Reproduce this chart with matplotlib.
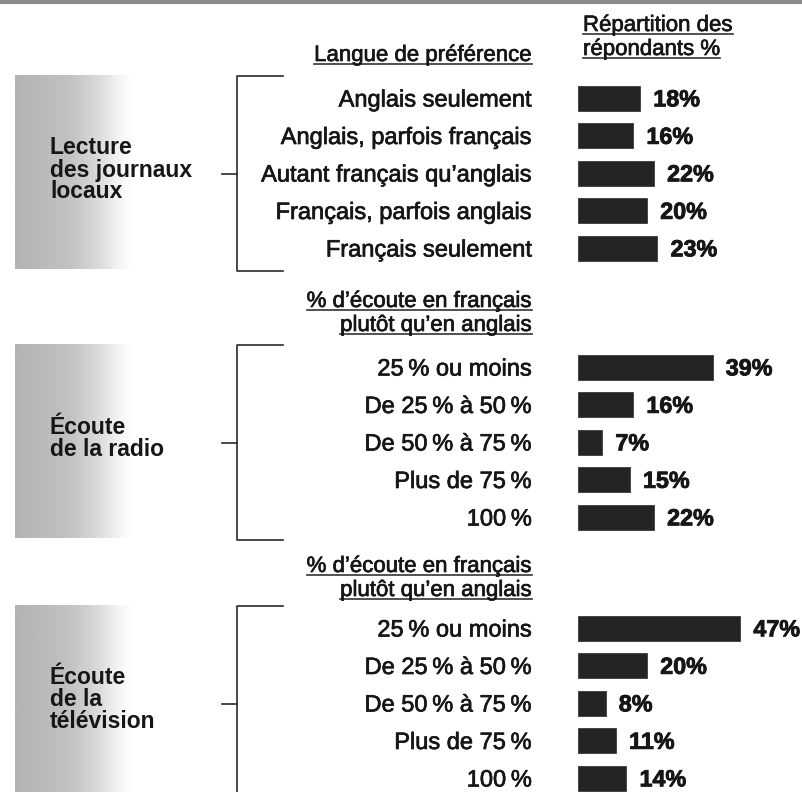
import numpy as np
import matplotlib.pyplot as plt
import matplotlib.patheffects as pe

# data
groups = ["Lecture\ndes journaux\nlocaux", "Écoute\nde la radio", "Écoute\nde la\ntélévision"]
headers = [
    ["Langue de préférence"],
    ["% d’écoute en français", "plutôt qu’en anglais"],
    ["% d’écoute en français", "plutôt qu’en anglais"],
]
labels_journaux = ["Anglais seulement", "Anglais, parfois français", "Autant français qu’anglais",
                   "Français, parfois anglais", "Français seulement"]
labels_ecoute = ["25\u2009% ou moins", "De 25\u2009% à 50\u2009%", "De 50\u2009% à 75\u2009%",
                 "Plus de 75\u2009%", "100\u2009%"]
values_journaux = [18, 16, 22, 20, 23]
values_radio = [39, 16, 7, 15, 22]
values_tele = [47, 20, 8, 11, 14]
value_header = ["Répartition des", "répondants %"]

panels = [
    (labels_journaux, values_journaux),
    (labels_ecoute, values_radio),
    (labels_ecoute, values_tele),
]

W, H = 803, 792
fig = plt.figure(figsize=(W / 100, H / 100), dpi=100)
fig.patch.set_facecolor("white")

SANS = ["Liberation Sans", "DejaVu Sans"]
INK = "#161616"
thick = [pe.withStroke(linewidth=0.5, foreground=INK)]
heavy = [pe.withStroke(linewidth=0.6, foreground=INK)]

# base layer in pixel units
ax = fig.add_axes([0, 0, 1, 1])
ax.set_xlim(0, W)
ax.set_ylim(H, 0)
ax.axis("off")

# bar layer: x in percent, y in pixels
bar_x0 = 578
px_per_pct = 3.45
bx = fig.add_axes([bar_x0 / W, 0, 1 - bar_x0 / W, 1])
bx.set_xlim(0, (W - bar_x0) / px_per_pct)
bx.set_ylim(H, 0)
bx.axis("off")

ax.axhline(1.5, color="#8a8a8a", lw=3)

first_rows = [98, 367, 628]
step = 37.5
header_base = [[61], [307, 331], [572, 596]]
label_right = 532

underlined = []

for k, ((labels, vals), y0) in enumerate(zip(panels, first_rows)):
    ys = y0 + step * np.arange(len(vals))

    # bars and values
    bx.barh(ys, vals, height=25, color="#242424", edgecolor="#3a3a3a", lw=0.6)
    for y, v in zip(ys, vals):
        bx.annotate(f"{v}%", xy=(v, y), xytext=(9.5, -6.0), textcoords="offset points",
                    va="baseline", ha="left", fontsize=16.8, fontweight="bold",
                    family=SANS, color=INK, path_effects=heavy)

    # row labels
    for y, lab in zip(ys, labels):
        ax.text(label_right, y + 8.5, lab, ha="right", va="baseline",
                fontsize=17, family=SANS, color=INK, path_effects=thick)

    # headers
    for line, yb in zip(headers[k], header_base[k]):
        t = ax.text(label_right, yb, line, ha="right", va="baseline",
                    fontsize=16, family=SANS, color=INK, path_effects=thick)
        underlined.append((t, yb))

    # bracket
    top, bot = ys[0] - 22, ys[-1] + 23
    mid = (top + bot) / 2
    ax.plot([283, 237, 237, 283], [top, top, bot, bot], color="#2a2a2a", lw=1.2)
    ax.plot([222, 237], [mid, mid], color="#2a2a2a", lw=1.2)

    # shaded block with category name
    g = np.interp(np.linspace(15, 132, 120), [15, 70, 100, 120, 132], [0.70, 0.76, 0.86, 0.96, 1.0])
    ax.imshow(np.tile(g, (10, 1)), cmap="gray", vmin=0, vmax=1, aspect="auto",
              extent=[15, 132, bot - 2, top - 1], interpolation="bilinear", zorder=0)
    lines = groups[k].split("\n")
    cy = mid - 5
    for j, line in enumerate(lines):
        yy = cy + (j - (len(lines) - 1) / 2) * 22 + 8
        ax.text(50, yy, line, ha="left", va="baseline", fontsize=16.5,
                fontweight="bold", family=SANS, color=INK)

for line, yb in zip(value_header, [31, 55]):
    t = ax.text(bar_x0 + 5, yb, line, ha="left", va="baseline", fontsize=16,
                family=SANS, color=INK, path_effects=thick)
    underlined.append((t, yb))

ax.set_xlim(0, W)
ax.set_ylim(H, 0)

# underline the header lines
fig.canvas.draw()
r = fig.canvas.get_renderer()
inv = ax.transData.inverted()
for t, yb in underlined:
    bb = t.get_window_extent(r)
    (x1, _), (x2, _) = inv.transform([(bb.x0, bb.y0), (bb.x1, bb.y1)])
    ax.plot([x1, x2], [yb + 3, yb + 3], color="#333333", lw=1.2)

fig.savefig("out.png", dpi=100, facecolor="white")
